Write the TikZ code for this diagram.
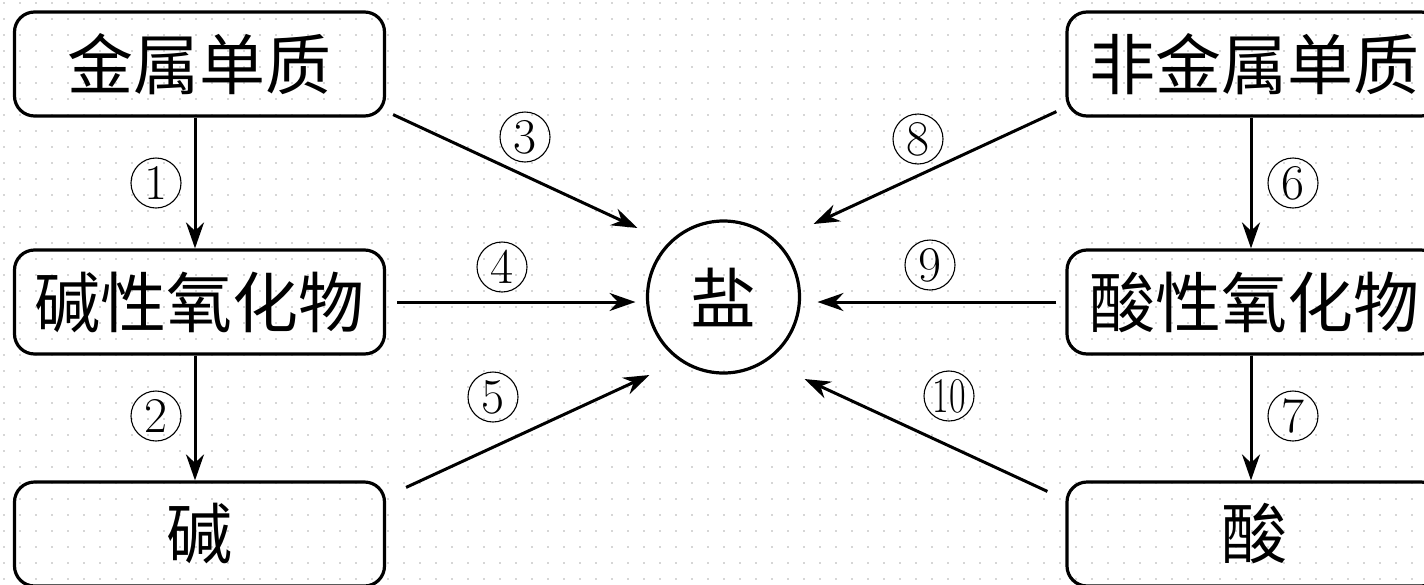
\documentclass[tikz,border=0pt]{standalone}
\usepackage{fontspec}
\newfontfamily\cjk{Noto Sans CJK SC}
\usetikzlibrary{arrows.meta}
\begin{document}
\begin{tikzpicture}[x=1pt,y=-1pt,
  box/.style={draw, line width=3.2pt, rounded corners=20pt, minimum width=370pt,
    minimum height=104pt, inner sep=0pt, font=\cjk\fontsize{66}{70}\selectfont},
  salt/.style={draw, circle, line width=3.2pt, minimum size=152pt, inner sep=0pt,
    font=\cjk\fontsize{66}{70}\selectfont},
  lab/.style={draw, circle, line width=1.1pt, minimum size=50pt, inner sep=0pt,
    font=\fontsize{50}{50}\selectfont},
  arr/.style={line width=3pt, -{Stealth[length=26pt,width=18pt]}}]
\useasboundingbox (0,0) rectangle (1424,584);
\clip (0,0) rectangle (1424,584);
% dotted background
\foreach \yy in {3,19,...,584}
  \draw[black!16, line width=1.6pt, dash pattern=on 1.6pt off 14.4pt, dash phase=13pt] (0,\yy) -- (1424,\yy);
% boxes
\node[box] (m1) at (199.5,64) {金属单质};
\node[box] (m2) at (199.5,302) {碱性氧化物\hspace{20pt}};
\node[box] (m3) at (199.5,534) {碱};
\node[box,minimum width=374pt] (n1) at (1254,64) {非金属单质};
\node[box,minimum width=374pt] (n2) at (1254,302) {酸性氧化物\hspace{26pt}};
\node[box,minimum width=374pt] (n3) at (1254,534) {酸};
\node[salt] (s) at (723.5,297) {盐};
% arrow end points
\coordinate (t3) at ([shift={(-86,-69)}]s.center);
\coordinate (t4) at ([shift={(-88,5)}]s.center);
\coordinate (t5) at ([shift={(-74,78)}]s.center);
\coordinate (t8) at ([shift={(90,-73)}]s.center);
\coordinate (t9) at ([shift={(94,5)}]s.center);
\coordinate (t10) at ([shift={(81,82)}]s.center);
% arrows
\draw[arr] ([xshift=-4.5pt]m1.south) -- ([xshift=-4.5pt]m2.north);
\draw[arr] ([xshift=-4.5pt]m2.south) -- ([xshift=-4.5pt]m3.north);
\draw[arr] ([xshift=-3pt]n1.south) -- ([xshift=-3pt]n2.north);
\draw[arr] ([xshift=-3pt]n2.south) -- ([xshift=-3pt]n3.north);
\draw[arr] ([shift={(7,-3)}]m1.south east) -- (t3);
\draw[arr] ([xshift=11pt]m2.east) -- (t4);
\draw[arr] ([shift={(20,7)}]m3.north east) -- (t5);
\draw[arr] ([shift={(-9,-6)}]n1.south west) -- (t8);
\draw[arr] ([xshift=-9pt]n2.west) -- (t9);
\draw[arr] ([shift={(-18,11)}]n3.north west) -- (t10);
% labels
\node[lab] (l1) at (156,183) {1};
\node[lab] (l2) at (156,416) {2};
\node[lab] (l3) at (525,137) {3};
\node[lab] (l4) at (502,267) {4};
\node[lab] (l5) at (493,397) {5};
\node[lab] (l6) at (1293,183) {6};
\node[lab] (l7) at (1293,416) {7};
\node[lab] (l8) at (918,139) {8};
\node[lab] (l9) at (930,265) {9};
\node[lab] (l10) at (949,396) {\scalebox{0.72}[1]{10}};
\end{tikzpicture}
\end{document}
